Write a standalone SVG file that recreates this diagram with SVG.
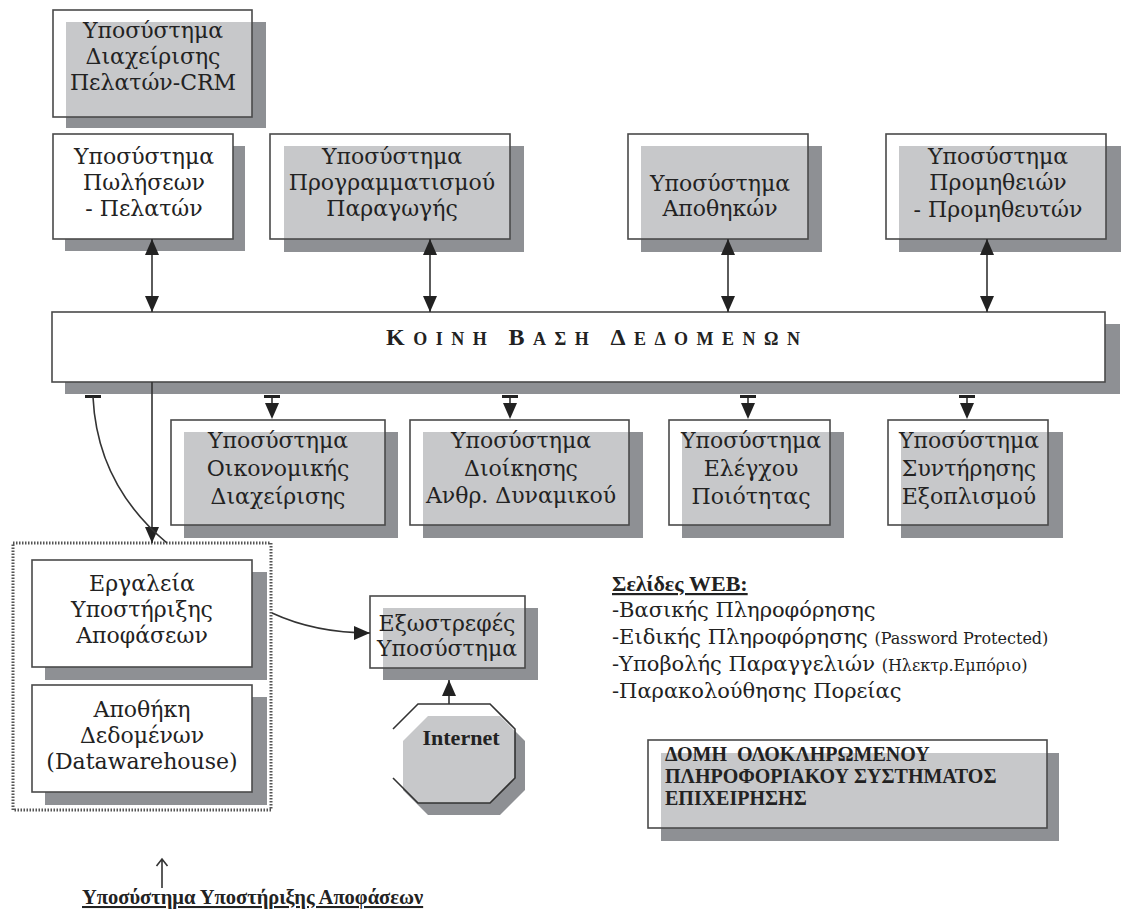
<svg xmlns="http://www.w3.org/2000/svg" width="1133" height="915" viewBox="0 0 1133 915">
<defs>
<style>
.frame{fill:#ffffff;stroke:#4a4a4a;stroke-width:1.6}
.glass{fill:#ffffff;fill-opacity:0.5;stroke:#4a4a4a;stroke-width:1.6}
.shadow{fill:#8e9094}
text{font-family:'DejaVu Serif','Liberation Serif',serif;fill:#222}
.t{font-size:22px;text-anchor:middle}
.w{font-size:21px}
.ws{font-size:16px}
.b{font-family:'Liberation Serif','Times New Roman',serif;font-weight:bold}
.line{fill:none;stroke:#333;stroke-width:1.6}
.head{fill:#222}
</style>
<marker id="arr" viewBox="0 0 16 14" refX="16" refY="7" markerWidth="16" markerHeight="14" markerUnits="userSpaceOnUse" orient="auto-start-reverse">
<path d="M0 0 L16 7 L0 14 Z" fill="#222"/>
</marker>
</defs>
<rect width="1133" height="915" fill="#ffffff"/>

<g id="crm">
<rect class="shadow" x="66" y="22" width="200" height="106"/>
<rect class="glass" x="53" y="10" width="199" height="107"/>
<text class="t" x="153" y="38">Υποσύστημα</text>
<text class="t" x="153" y="64">Διαχείρισης</text>
<text class="t" x="153" y="90">Πελατών-CRM</text>
</g>

<g id="sales">
<rect class="shadow" x="65" y="146" width="180" height="105"/>
<rect class="frame" x="53" y="134" width="180" height="105"/>
<text class="t" x="144" y="164">Υποσύστημα</text>
<text class="t" x="144" y="190">Πωλήσεων</text>
<text class="t" x="144" y="216">- Πελατών</text>
</g>

<g id="production">
<rect class="shadow" x="284" y="146" width="240" height="106"/>
<rect class="glass" x="270" y="134" width="240" height="105"/>
<text class="t" x="392" y="164">Υποσύστημα</text>
<text class="t" x="392" y="190">Προγραμματισμού</text>
<text class="t" x="392" y="216">Παραγωγής</text>
</g>

<g id="warehouses">
<rect class="shadow" x="641" y="146" width="181" height="106"/>
<rect class="glass" x="628" y="134" width="180" height="105"/>
<text class="t" x="720" y="191">Υποσύστημα</text>
<text class="t" x="720" y="216">Αποθηκών</text>
</g>

<g id="procurement">
<rect class="shadow" x="899" y="146" width="222" height="106"/>
<rect class="glass" x="886" y="134" width="220" height="105"/>
<text class="t" x="998" y="164">Υποσύστημα</text>
<text class="t" x="998" y="190">Προμηθειών</text>
<text class="t" x="998" y="217">- Προμηθευτών</text>
</g>

<g id="database">
<rect class="shadow" x="65" y="324" width="1055" height="70"/>
<rect class="frame" x="52" y="312" width="1053" height="70"/>
<text class="b" x="386" y="345" textLength="414" lengthAdjust="spacing"><tspan font-size="24">Κ</tspan><tspan font-size="18">ΟΙΝΗ </tspan><tspan font-size="24">Β</tspan><tspan font-size="18">ΑΣΗ </tspan><tspan font-size="24">Δ</tspan><tspan font-size="18">ΕΔΟΜΕΝΩΝ</tspan></text>
</g>

<g id="finance">
<rect class="shadow" x="184" y="432" width="214" height="106"/>
<rect class="glass" x="171" y="420" width="214" height="105"/>
<text class="t" x="278" y="448">Υποσύστημα</text>
<text class="t" x="278" y="476">Οικονομικής</text>
<text class="t" x="278" y="504">Διαχείρισης</text>
</g>

<g id="hr">
<rect class="shadow" x="423" y="432" width="220" height="106"/>
<rect class="glass" x="410" y="420" width="219" height="105"/>
<text class="t" x="521" y="448">Υποσύστημα</text>
<text class="t" x="521" y="476">Διοίκησης</text>
<text class="t" x="521" y="503">Ανθρ. Δυναμικού</text>
</g>

<g id="quality">
<rect class="shadow" x="682" y="432" width="162" height="106"/>
<rect class="glass" x="669" y="420" width="161" height="105"/>
<text class="t" x="751" y="448">Υποσύστημα</text>
<text class="t" x="751" y="476">Ελέγχου</text>
<text class="t" x="751" y="504">Ποιότητας</text>
</g>

<g id="maintenance">
<rect class="shadow" x="901" y="432" width="162" height="106"/>
<rect class="glass" x="888" y="420" width="160" height="105"/>
<text class="t" x="969" y="448">Υποσύστημα</text>
<text class="t" x="969" y="476">Συντήρησης</text>
<text class="t" x="969" y="504">Εξοπλισμού</text>
</g>

<g id="dss">
<rect x="13" y="543" width="258" height="267" fill="none" stroke="#555" stroke-width="3" stroke-dasharray="1.5 1.5"/>
<g id="tools">
<rect class="shadow" x="45" y="572" width="222" height="108"/>
<rect class="frame" x="32" y="560" width="220" height="107"/>
<text class="t" x="142" y="591">Εργαλεία</text>
<text class="t" x="142" y="617">Υποστήριξης</text>
<text class="t" x="142" y="643">Αποφάσεων</text>
</g>
<g id="datawarehouse">
<rect class="shadow" x="45" y="697" width="222" height="108"/>
<rect class="frame" x="32" y="685" width="220" height="107"/>
<text class="t" x="142" y="717">Αποθήκη</text>
<text class="t" x="142" y="743">Δεδομένων</text>
<text class="t" x="142" y="769">(Datawarehouse)</text>
</g>
</g>

<g id="external">
<rect class="shadow" x="383" y="608" width="155" height="72"/>
<rect class="glass" x="370" y="596" width="155" height="72"/>
<text class="t" x="447" y="631">Εξωστρεφές</text>
<text class="t" x="447" y="656">Υποσύστημα</text>
</g>

<g id="internet">
<polygon class="shadow" points="428,716 500,716 525,741 525,790 500,815 428,815 403,790 403,741"/>
<polygon points="418,704 490,704 515,729 515,778 490,803 418,803 393,778 393,729" fill="#ffffff" fill-opacity="0.5"/>
<path class="line" d="M393 729 L418 704 L490 704 L515 729 L515 778 L490 803 L418 803 L393 778"/>
<text class="b" x="461" y="745" font-size="22" text-anchor="middle">Internet</text>
</g>

<g id="web-pages">
<text class="b" x="612" y="591" font-size="22" text-decoration="underline">Σελίδες WEB:</text>
<text class="w" x="612" y="617">-Βασικής Πληροφόρησης</text>
<text class="w" x="612" y="644">-Ειδικής Πληροφόρησης <tspan class="ws">(Password Protected)</tspan></text>
<text class="w" x="612" y="671">-Υποβολής Παραγγελιών <tspan class="ws">(Ηλεκτρ.Εμπόριο)</tspan></text>
<text class="w" x="612" y="698">-Παρακολούθησης Πορείας</text>
</g>

<g id="title">
<rect class="shadow" x="661" y="753" width="398" height="88"/>
<rect class="glass" x="648" y="740" width="399" height="88"/>
<text class="b" x="665" y="761" font-size="20" xml:space="preserve">ΔΟΜΗ  ΟΛΟΚΛΗΡΩΜΕΝΟΥ</text>
<text class="b" x="665" y="783" font-size="20">ΠΛΗΡΟΦΟΡΙΑΚΟΥ ΣΥΣΤΗΜΑΤΟΣ</text>
<text class="b" x="665" y="805" font-size="20">ΕΠΙΧΕΙΡΗΣΗΣ</text>
</g>

<g id="dss-label">
<path class="line" d="M162 888 V859 M156.5 866 L162 859 L167.5 866"/>
<text class="b" x="82" y="904" font-size="20.5" text-decoration="underline">Υποσύστημα Υποστήριξης Αποφάσεων</text>
</g>

<g id="connectors">
<line class="line" x1="152" y1="239" x2="152" y2="312" marker-start="url(#arr)" marker-end="url(#arr)"/>
<line class="line" x1="430" y1="239" x2="430" y2="312" marker-start="url(#arr)" marker-end="url(#arr)"/>
<line class="line" x1="728" y1="239" x2="728" y2="312" marker-start="url(#arr)" marker-end="url(#arr)"/>
<line class="line" x1="987" y1="239" x2="987" y2="312" marker-start="url(#arr)" marker-end="url(#arr)"/>

<g id="down-links">
<rect class="head" x="264" y="395" width="16" height="3"/><line class="line" x1="272" y1="398" x2="272" y2="405"/><path class="head" d="M265 403 L279 403 L272 419 Z"/>
<rect class="head" x="502" y="395" width="16" height="3"/><line class="line" x1="510" y1="398" x2="510" y2="405"/><path class="head" d="M503 403 L517 403 L510 419 Z"/>
<rect class="head" x="740" y="395" width="16" height="3"/><line class="line" x1="748" y1="398" x2="748" y2="405"/><path class="head" d="M741 403 L755 403 L748 419 Z"/>
<rect class="head" x="959" y="395" width="16" height="3"/><line class="line" x1="967" y1="398" x2="967" y2="405"/><path class="head" d="M960 403 L974 403 L967 419 Z"/>
</g>

<line class="line" x1="152" y1="382" x2="152" y2="543" marker-end="url(#arr)"/>
<rect class="head" x="85" y="395" width="16" height="3"/>
<path class="line" d="M93 397 C 96 460, 125 508, 167 543"/>
<path class="line" d="M272 613 C 300 626, 330 633, 370 633" marker-end="url(#arr)"/>
<line class="line" x1="449" y1="704" x2="449" y2="680" marker-end="url(#arr)"/>
</g>
</svg>
